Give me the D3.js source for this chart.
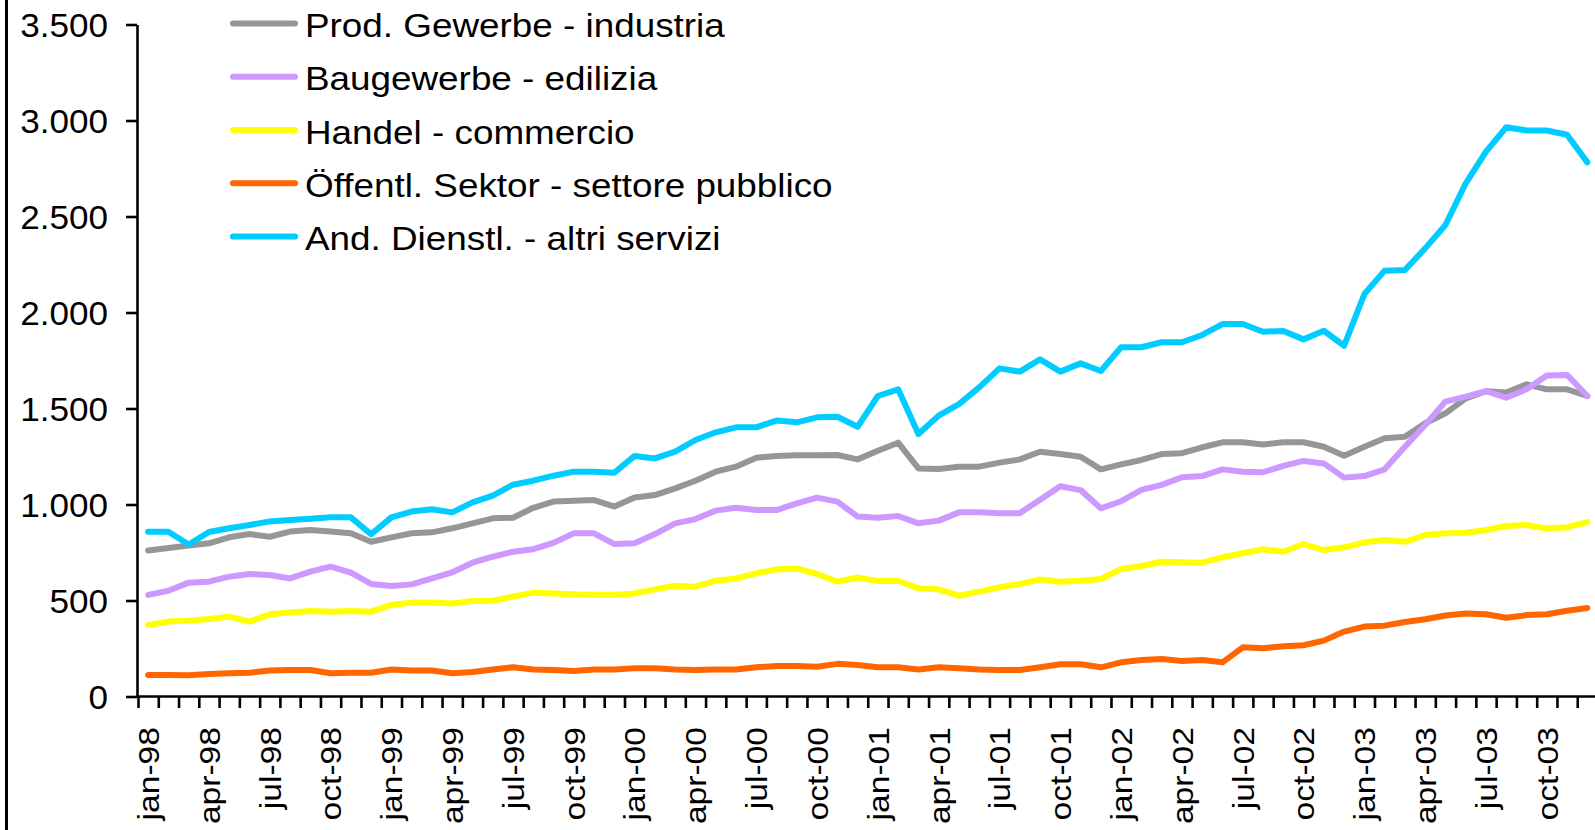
<!DOCTYPE html>
<html>
<head>
<meta charset="utf-8">
<script src="https://cdn.jsdelivr.net/npm/d3@7"></script>
<style>
  body { margin: 0; background: #fff; }
  svg text { font-family: 'Liberation Sans', Arial, sans-serif; fill: #000; }
</style>
</head>
<body>
<div id="chart"></div>
<script>
// categories: one per month, jan-98 .. dec-03
const monthNames = ['jan', 'feb', 'mar', 'apr', 'may', 'jun', 'jul', 'aug', 'sep', 'oct', 'nov', 'dec'];
const years = ['98', '99', '00', '01', '02', '03'];
const months = years.flatMap(yr => monthNames.map(m => `${m}-${yr}`));

const labels = [
  'Prod. Gewerbe - industria',
  'Baugewerbe - edilizia',
  'Handel - commercio',
  'Öffentl. Sektor - settore pubblico',
  'And. Dienstl. - altri servizi',
];
const colors = ['#969696', '#cc99ff', '#ffff00', '#ff6600', '#00ccff'];

const industria = [
  760, 773, 786, 798, 829, 846, 832, 859, 867, 859, 850, 806,
  829, 850, 855, 876, 902, 928, 931, 983, 1015, 1020, 1023, 989,
  1036, 1049, 1084, 1124, 1171, 1197, 1244, 1253, 1256, 1256, 1258, 1235,
  1280, 1322, 1188, 1185, 1197, 1197, 1218, 1235, 1275, 1263, 1249, 1183,
  1209, 1232, 1263, 1267, 1298, 1324, 1324, 1313, 1324, 1324, 1301, 1254,
  1301, 1345, 1353, 1423, 1475, 1553, 1590, 1583, 1626, 1600, 1600, 1565,
];
const edilizia = [
  529, 551, 593, 598, 624, 638, 633, 615, 650, 676, 645, 586,
  576, 584, 615, 647, 697, 728, 754, 767, 800, 850, 850, 794,
  798, 846, 902, 924, 968, 983, 971, 971, 1006, 1036, 1015, 937,
  931, 940, 902, 916, 959, 959, 955, 955, 1025, 1095, 1075, 980,
  1017, 1076, 1102, 1142, 1148, 1183, 1171, 1168, 1201, 1227, 1214, 1140,
  1148, 1183, 1301, 1414, 1536, 1562, 1591, 1556, 1600, 1672, 1675, 1565,
];
const commercio = [
  372, 390, 395, 404, 416, 390, 428, 437, 445, 442, 445, 442,
  477, 489, 489, 485, 497, 499, 520, 541, 537, 532, 530, 530,
  537, 558, 577, 572, 603, 615, 641, 662, 667, 638, 598, 620,
  601, 603, 563, 558, 525, 546, 569, 586, 610, 598, 603, 612,
  664, 680, 702, 699, 697, 725, 746, 767, 754, 794, 763, 777,
  803, 815, 806, 841, 850, 853, 867, 888, 893, 875, 882, 908,
];
const pubblico = [
  112, 112, 111, 117, 121, 124, 135, 138, 138, 121, 124, 124,
  141, 135, 135, 121, 128, 141, 152, 141, 138, 133, 141, 141,
  147, 147, 141, 138, 141, 141, 152, 159, 159, 155, 170, 164,
  152, 152, 141, 152, 147, 141, 138, 138, 152, 168, 168, 152,
  178, 190, 195, 185, 190, 178, 256, 251, 262, 267, 291, 338,
  364, 369, 388, 402, 422, 432, 428, 410, 424, 428, 447, 461,
];
const servizi = [
  858, 858, 792, 857, 876, 893, 912, 919, 926, 933, 933, 845,
  933, 963, 975, 959, 1011, 1046, 1103, 1124, 1150, 1171, 1170, 1166,
  1253, 1240, 1275, 1336, 1376, 1402, 1402, 1437, 1428, 1454, 1457, 1405,
  1565, 1600, 1367, 1463, 1523, 1610, 1709, 1692, 1756, 1692, 1735, 1695,
  1819, 1819, 1845, 1845, 1883, 1940, 1940, 1900, 1904, 1860, 1905, 1827,
  2096, 2218, 2221, 2334, 2456, 2673, 2838, 2965, 2948, 2948, 2926, 2782,
];

const yTicks = [0, 500, 1000, 1500, 2000, 2500, 3000, 3500];

const series = [industria, edilizia, commercio, pubblico, servizi].map((values, i) => ({
  label: labels[i],
  color: colors[i],
  values,
}));

const width = 1595;
const height = 830;

const svg = d3
  .select('#chart')
  .append('svg')
  .attr('width', width)
  .attr('height', height);

const x = d3.scaleBand().domain(months).range([138, 1597.5]).padding(0);
const xIdx = d3.scaleLinear().domain([0, months.length]).range([138, 1597.5]);
const y = d3.scaleLinear().domain([0, 3500]).range([696.5, 24.5]);
const cx = d => x(d) + x.bandwidth() / 2;

const fmt = d3
  .formatLocale({ decimal: ',', thousands: '.', grouping: [3], currency: ['', ''] })
  .format(',');

// chart border (only the left edge is in view)
svg
  .append('line')
  .attr('x1', 6.5)
  .attr('x2', 6.5)
  .attr('y1', 0)
  .attr('y2', height)
  .attr('stroke', '#000')
  .attr('stroke-width', 3);

// y axis
const yAxis = svg
  .append('g')
  .attr('transform', 'translate(137,0)')
  .call(d3.axisLeft(y).tickValues(yTicks).tickSize(11).tickSizeOuter(0).tickFormat(fmt));
yAxis.select('.domain').attr('stroke-width', 2.6);
yAxis.selectAll('.tick line').attr('stroke-width', 2.6);
yAxis
  .selectAll('.tick text')
  .attr('x', null)
  .attr('dy', '0.36em')
  .attr('transform', 'translate(-29,0) scale(1.08,1)')
  .style('font-size', '32.5px');

// x axis: a tick between every month
const xAxis = svg
  .append('g')
  .attr('transform', 'translate(0,696)')
  .call(
    d3
      .axisBottom(xIdx)
      .tickValues(d3.range(months.length + 1))
      .tickSize(12)
      .tickSizeOuter(0)
      .tickFormat('')
  );
xAxis.select('.domain').attr('stroke-width', 2.6);
xAxis.selectAll('.tick line').attr('stroke-width', 2.6);

// month labels, every third month
svg
  .append('g')
  .selectAll('text')
  .data(months.filter((d, i) => i % 3 === 0))
  .join('text')
  .attr('transform', d => `translate(${cx(d)},727) rotate(-90) scale(1.12,1)`)
  .attr('text-anchor', 'end')
  .attr('dy', '0.36em')
  .style('font-size', '30px')
  .text(d => d);

// lines
const line = d3
  .line()
  .x((d, i) => cx(months[i]))
  .y(d => y(d));

svg
  .append('g')
  .selectAll('path')
  .data(series)
  .join('path')
  .attr('d', d => line(d.values))
  .attr('fill', 'none')
  .attr('stroke', d => d.color)
  .attr('stroke-width', 6)
  .attr('stroke-linejoin', 'round')
  .attr('stroke-linecap', 'round');

// legend
const legend = svg.append('g').attr('transform', 'translate(0,23.5)');
const item = legend
  .selectAll('g')
  .data(series)
  .join('g')
  .attr('transform', (d, i) => `translate(0,${i * 53.25})`);

item
  .append('line')
  .attr('x1', 233)
  .attr('x2', 295)
  .attr('stroke', d => d.color)
  .attr('stroke-width', 6)
  .attr('stroke-linecap', 'round');

item
  .append('text')
  .attr('transform', 'translate(305,13.5) scale(1.1,1)')
  .style('font-size', '33.5px')
  .text(d => d.label);
</script>
</body>
</html>
